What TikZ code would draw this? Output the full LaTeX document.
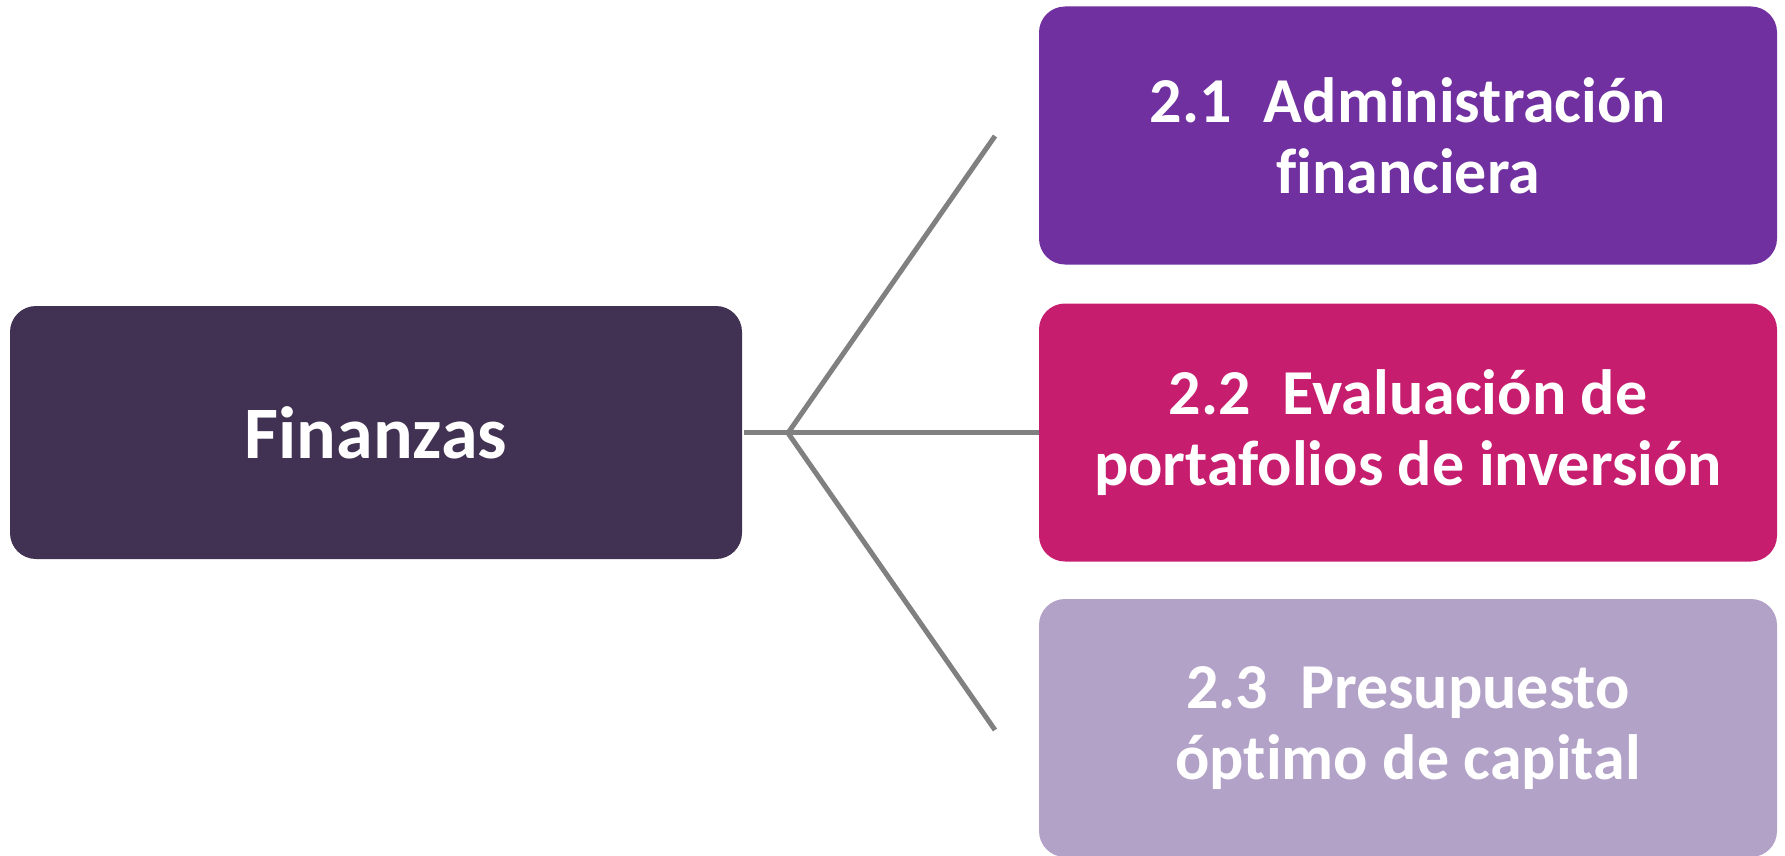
\documentclass[tikz,border=0pt]{standalone}
\usepackage{fontspec}
\setmainfont{Carlito}[Ligatures=NoCommon]
\definecolor{finc}{HTML}{413152}
\definecolor{c1}{HTML}{7030A0}
\definecolor{c2}{HTML}{C71D6F}
\definecolor{c3}{HTML}{B3A2C7}
\definecolor{lnc}{HTML}{808080}
\begin{document}
\begin{tikzpicture}[x=1pt,y=-1pt,
  box/.style={rounded corners=26pt, minimum width=738pt, minimum height=258pt, inner sep=0pt,
     text=white, align=center, font=\fontsize{64}{71}\selectfont\bfseries},
  conn/.style={draw=lnc, line width=5pt}]
\useasboundingbox (0,0) rectangle (1785,856);
\node[box, fill=finc, minimum width=732pt, minimum height=253pt, font=\fontsize{74}{80}\selectfont\bfseries] (fin) at (376,432.5) {Finanzas};
\node[box, fill=c1] (b1) at (1408,135.5) {2.1\hspace{0.5em}Administración\\financiera};
\node[box, fill=c2] (b2) at (1408,432.5) {2.2\hspace{0.5em}Evaluación de\\portafolios de inversión};
\node[box, fill=c3] (b3) at (1408,728) {2.3\hspace{0.5em}Presupuesto\\óptimo de capital};
\coordinate (br) at (788,433);
\coordinate (e1) at (995,136);
\coordinate (e3) at (995,730);
\draw[conn] (fin.east) ++(2,0) -- (b2.west);
\draw[conn] (br) -- (e1);
\draw[conn] (br) -- (e3);
\end{tikzpicture}
\end{document}
